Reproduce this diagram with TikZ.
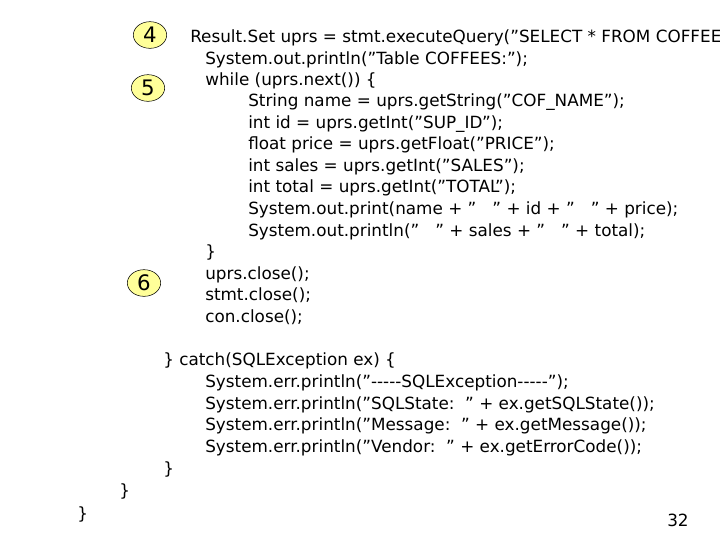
\documentclass[tikz,border=0pt]{standalone}
\usepackage{fontspec}
\setmainfont{DejaVu Sans}[Ligatures=ResetAll]
\usetikzlibrary{shapes.geometric}
\definecolor{numfill}{HTML}{FFFF99}
\def\q{\symbol{34}}
\begin{document}
\begin{tikzpicture}[x=0.75pt,y=-0.75pt,
  code/.style={anchor=base west,inner sep=0pt,font=\fontsize{13}{15}\selectfont\addfontfeatures{Scale=0.97}},
  num/.style={ellipse,draw=black,fill=numfill,minimum width=25pt,minimum height=20pt,inner sep=0pt,font=\fontsize{16}{18}\selectfont}]
\useasboundingbox (0,0) rectangle (720,540);
\clip (0,0) rectangle (720,540);
\node[num] (n4) at (150,35) {4};
\node[num] (n5) at (148,88) {5};
\node[num] (n6) at (144,283) {6};
\node[code] (l1) at (190,42) {Result.Set uprs = stmt.executeQuery(\q SELECT * FROM COFFEES\q);};
\node[code] (l2) at (205,64) {System.out.println(\q Table COFFEES:\q);};
\node[code] (l3) at (205,85) {while (uprs.next()) \{};
\node[code] (l4) at (248,106) {String name = uprs.getString(\q COF\_NAME\q);};
\node[code] (l5) at (248,128) {int id = uprs.getInt(\q SUP\_ID\q);};
\node[code] (l6) at (248,149) {float price = uprs.getFloat(\q PRICE\q);};
\node[code] (l7) at (248,171) {int sales = uprs.getInt(\q SALES\q);};
\node[code] (l8) at (248,192) {int total = uprs.getInt(\q TOTAL\q);};
\node[code] (l9) at (248,214) {System.out.print(name + \q\ \ \ \q\ + id + \q\ \ \ \q\ + price);};
\node[code] (l10) at (248,236) {System.out.println(\q\ \ \ \q\ + sales + \q\ \ \ \q\ + total);};
\node[code] (l11) at (205,257) {\}};
\node[code] (l12) at (205,279) {uprs.close();};
\node[code] (l13) at (205,300) {stmt.close();};
\node[code] (l14) at (205,322) {con.close();};
\node[code] (l15) at (163,365) {\} catch(SQLException ex) \{};
\node[code] (l16) at (205,387) {System.err.println(\q-{}-{}-{}-{}-SQLException-{}-{}-{}-{}-\q);};
\node[code] (l17) at (205,409) {System.err.println(\q SQLState:\ \ \q\ + ex.getSQLState());};
\node[code] (l18) at (205,430) {System.err.println(\q Message:\ \ \q\ + ex.getMessage());};
\node[code] (l19) at (205,452) {System.err.println(\q Vendor:\ \ \q\ + ex.getErrorCode());};
\node[code] (l20) at (163,474) {\}};
\node[code] (l21) at (119,496) {\}};
\node[code] (l22) at (77,519) {\}};
\node[code] (pg) at (667,526) {32};
\end{tikzpicture}
\end{document}
